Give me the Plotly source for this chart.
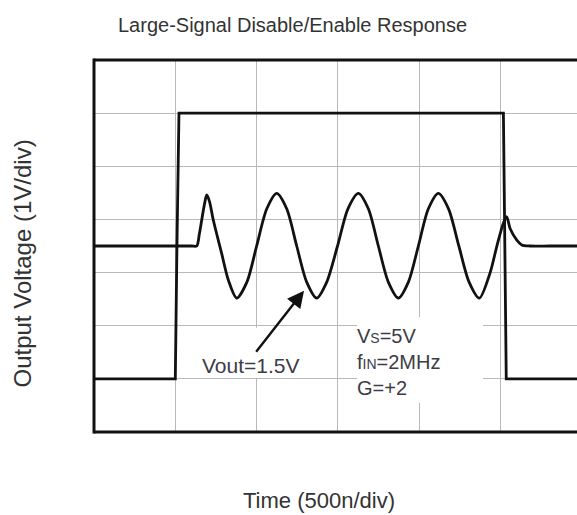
import plotly.graph_objects as go

# ---- data (x in time divisions of 500 ns, y in volts-divisions of 1 V) ----
enable_x = [0.0, 1.0, 1.02, 1.045, 5.035, 5.05, 5.07, 5.94]
enable_y = [1.0, 1.0, 3.5, 6.0, 6.0, 3.5, 1.0, 1.0]

out_x = [0.0, 0.6, 1.2, 1.263, 1.295, 1.325, 1.36, 1.386, 1.42, 1.467, 1.57, 1.652, 1.755,
         1.88, 2.0, 2.125, 2.247, 2.37, 2.493, 2.616, 2.739, 2.862, 2.995,
         3.123, 3.251, 3.374, 3.497, 3.62, 3.743, 3.866, 3.989, 4.112, 4.235,
         4.36, 4.487, 4.613, 4.739, 4.87, 4.953, 5.034, 5.076, 5.117, 5.2,
         5.26, 5.36, 5.6, 5.94]
out_y = [3.5, 3.5, 3.5, 3.5, 3.72, 3.99, 4.3, 4.46, 4.34, 3.99, 3.36, 2.86, 2.52,
         2.82, 3.5, 4.2, 4.49, 4.2, 3.5, 2.82, 2.52, 2.82, 3.5,
         4.2, 4.49, 4.2, 3.5, 2.82, 2.52, 2.82, 3.5, 4.2, 4.49,
         4.2, 3.5, 2.82, 2.52, 2.99, 3.49, 3.93, 4.05, 3.83, 3.61,
         3.52, 3.5, 3.5, 3.5]

title_text = "Large-Signal Disable/Enable Response"
x_title = "Time (500n/div)"
y_title = "Output Voltage (1V/div)"
vout_label = "Vout=1.5V"
cond_label = ("V<span style='font-size:14px'>S</span>=5V<br>"
              "f<span style='font-size:14px'>IN</span>=2MHz<br>G=+2")

x_range = [0, 5.94]
y_range = [0, 7]

FONT = "Arial, Liberation Sans, sans-serif"
INK = "#111111"
TXT = "#3c3c46"
GRID = "#b9b9b9"

fig = go.Figure()
fig.add_trace(go.Scatter(x=enable_x, y=enable_y, mode="lines",
                         line=dict(color=INK, width=2.8), hoverinfo="skip"))
fig.add_trace(go.Scatter(x=out_x, y=out_y, mode="lines",
                         line=dict(color=INK, width=2.8, shape="spline", smoothing=0.8),
                         hoverinfo="skip"))

axis_common = dict(showticklabels=False, ticks="", zeroline=False, showline=False,
                   showgrid=True, gridcolor=GRID, gridwidth=1.3, dtick=1, tick0=0,
                   fixedrange=True)
fig.update_xaxes(range=x_range, **axis_common)
fig.update_yaxes(range=y_range, **axis_common)

shapes = [
    # white label backgrounds (hide grid, drawn below traces)
    dict(type="rect", xref="x", yref="y", x0=3.235, x1=4.785, y0=0.55, y1=2.16,
         fillcolor="white", line=dict(width=0), layer="between"),
    dict(type="rect", xref="x", yref="y", x0=1.2, x1=2.6, y0=1.02, y1=1.96,
         fillcolor="white", line=dict(width=0), layer="between"),
    # frame (right side is cut off)
    dict(type="line", xref="paper", yref="paper", x0=0, x1=0, y0=-0.004, y1=1.004,
         line=dict(color=INK, width=3)),
    dict(type="line", xref="paper", yref="paper", x0=0, x1=1.01, y0=1, y1=1,
         line=dict(color=INK, width=3)),
    dict(type="line", xref="paper", yref="paper", x0=0, x1=1.01, y0=0, y1=0,
         line=dict(color=INK, width=3)),
]

annotations = [
    dict(text=title_text, xref="paper", yref="paper", x=0.412, y=1.095,
         xanchor="center", yanchor="middle", showarrow=False,
         font=dict(family=FONT, size=20, color="#333333")),
    dict(text=x_title, xref="paper", yref="paper", x=0.466, y=-0.183,
         xanchor="center", yanchor="middle", showarrow=False,
         font=dict(family=FONT, size=22, color="#333333")),
    dict(text=y_title, xref="paper", yref="paper", x=-0.149, y=0.453,
         xanchor="center", yanchor="middle", showarrow=False, textangle=-90,
         font=dict(family=FONT, size=24, color="#333333")),
    dict(text=vout_label, xref="x", yref="y", x=1.3, y=1.25,
         xanchor="left", yanchor="middle", showarrow=False,
         font=dict(family=FONT, size=21, color=TXT)),
    dict(text=cond_label, xref="x", yref="y", x=3.215, y=1.31,
         xanchor="left", yanchor="middle", align="left", showarrow=False,
         font=dict(family=FONT, size=20, color=TXT)),
    # arrow pointing at the output waveform
    dict(text="", xref="x", yref="y", x=2.583, y=2.66, axref="x", ayref="y",
         ax=1.98, ay=1.48, showarrow=True, arrowhead=2, arrowsize=1.4,
         arrowwidth=2.4, arrowcolor=INK, standoff=0, startstandoff=0),
]

fig.update_layout(
    width=577, height=515,
    margin=dict(l=94, r=0, t=60, b=83, pad=0),
    paper_bgcolor="white", plot_bgcolor="white",
    showlegend=False,
    shapes=shapes, annotations=annotations,
    font=dict(family=FONT),
)

# remove the default page margin so the figure fills the window exactly
fig.write_html("out.html", config={"displayModeBar": False},
               post_script="document.body.style.margin='0';"
                           "document.documentElement.style.overflow='hidden';"
                           "document.body.style.overflow='hidden';")
